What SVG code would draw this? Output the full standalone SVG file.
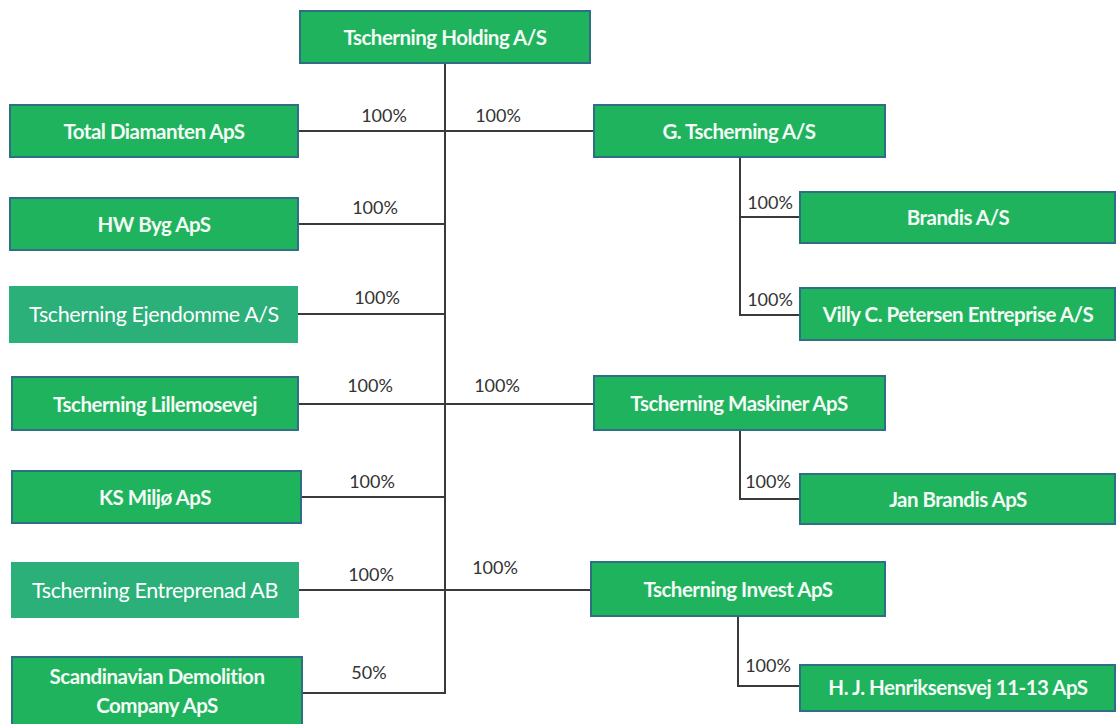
<svg xmlns="http://www.w3.org/2000/svg" width="1117" height="724" viewBox="0 0 1117 724">
<style>
.b{fill:#20b35e;stroke:#2f6f86;stroke-width:2}
.t{fill:#2bb07a}
.l{font-family:Lato,"Open Sans","Liberation Sans",sans-serif;font-size:20.5px;font-weight:bold;fill:#f4fbf6;text-anchor:middle;letter-spacing:-0.5px}
.n{font-family:Lato,"Open Sans","Liberation Sans",sans-serif;font-size:21.5px;fill:#ffffff;text-anchor:middle;letter-spacing:-0.4px}
.p{font-family:Lato,"Liberation Sans",sans-serif;font-size:18px;fill:#333;text-anchor:middle}
.c{fill:none;stroke:#3a3a3a;stroke-width:2}
</style>
<rect width="1117" height="724" fill="#fff"/>
<g id="connectors">
<path class="c" d="M445 63V693H298"/>
<path class="c" d="M298 131H594"/>
<path class="c" d="M298 224H445"/>
<path class="c" d="M298 314H445"/>
<path class="c" d="M298 404H594"/>
<path class="c" d="M301 497H445"/>
<path class="c" d="M298 590H591"/>
<path class="c" d="M740 157V217H800M740 217V315H800"/>
<path class="c" d="M740 430V499H800"/>
<path class="c" d="M738 617V686H800"/>
<g>
<text class="p" x="384" y="122">100%</text>
<text class="p" x="498" y="122">100%</text>
<text class="p" x="375" y="214">100%</text>
<text class="p" x="377" y="304">100%</text>
<text class="p" x="370" y="392">100%</text>
<text class="p" x="497" y="392">100%</text>
<text class="p" x="372" y="488">100%</text>
<text class="p" x="371" y="581">100%</text>
<text class="p" x="495" y="574">100%</text>
<text class="p" x="369" y="679">50%</text>
<text class="p" x="770" y="209">100%</text>
<text class="p" x="770" y="306">100%</text>
<text class="p" x="768" y="488">100%</text>
<text class="p" x="768" y="672">100%</text>
</g>
</g>
<g id="holding"><rect class="b" x="300" y="11" width="290" height="52"/><text class="l" x="445" y="45">Tscherning Holding A/S</text></g>
<g id="total-diamanten"><rect class="b" x="10" y="105" width="288" height="52"/><text class="l" x="154" y="139">Total Diamanten ApS</text></g>
<g id="hw-byg"><rect class="b" x="10" y="198" width="288" height="52"/><text class="l" x="154" y="232">HW Byg ApS</text></g>
<g id="ejendomme"><rect class="t" x="9" y="286" width="289" height="57"/><text class="n" x="154" y="322">Tscherning Ejendomme A/S</text></g>
<g id="lillemosevej"><rect class="b" x="12" y="377" width="286" height="53"/><text class="l" x="155" y="412">Tscherning Lillemosevej</text></g>
<g id="ks-miljo"><rect class="b" x="12" y="471" width="289" height="52"/><text class="l" x="155" y="505">KS Miljø ApS</text></g>
<g id="entreprenad"><rect class="t" x="11" y="562" width="288" height="56"/><text class="n" x="155" y="598">Tscherning Entreprenad AB</text></g>
<g id="scandinavian"><rect class="b" x="12" y="657" width="290" height="70"/><text class="l" x="157" y="684">Scandinavian Demolition</text><text class="l" x="157" y="713">Company ApS</text></g>
<g id="g-tscherning"><rect class="b" x="594" y="105" width="291" height="52"/><text class="l" x="739" y="139">G. Tscherning A/S</text></g>
<g id="brandis"><rect class="b" x="800" y="192" width="315" height="51"/><text class="l" x="958" y="225">Brandis A/S</text></g>
<g id="villy"><rect class="b" x="800" y="288" width="315" height="52"/><text class="l" x="958" y="322">Villy C. Petersen Entreprise A/S</text></g>
<g id="maskiner"><rect class="b" x="594" y="376" width="291" height="54"/><text class="l" x="739" y="411">Tscherning Maskiner ApS</text></g>
<g id="jan-brandis"><rect class="b" x="800" y="474" width="315" height="50"/><text class="l" x="958" y="507">Jan Brandis ApS</text></g>
<g id="invest"><rect class="b" x="591" y="562" width="294" height="54"/><text class="l" x="738" y="597">Tscherning Invest ApS</text></g>
<g id="henriksensvej"><rect class="b" x="800" y="665" width="315" height="46"/><text class="l" x="958" y="695">H. J. Henriksensvej 11-13 ApS</text></g>
</svg>
